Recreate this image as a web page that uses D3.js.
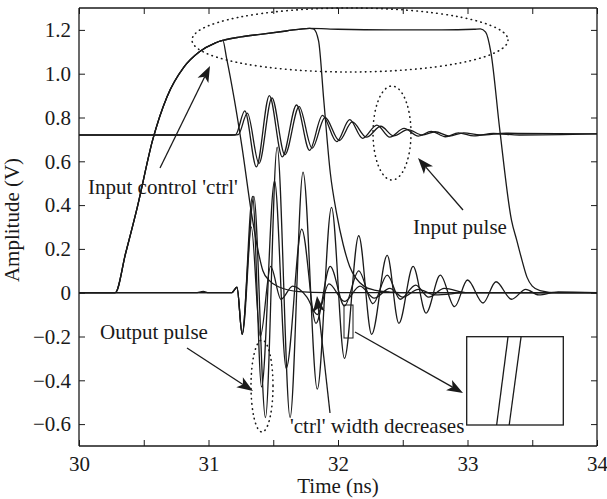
<!DOCTYPE html>
<html><head><meta charset="utf-8">
<script src="https://cdn.jsdelivr.net/npm/d3@7/dist/d3.min.js"></script>
<style>body{margin:0;background:#fff}svg text{font-family:"Liberation Serif","Times New Roman",serif;fill:#1a1a1a}</style>
</head><body><svg id="c" width="607" height="499"></svg>
<script>
// ---- data (time in ns, amplitude in V) ----
const xTicks = [30, 31, 32, 33, 34];
const xMinorTicks = [30.5, 31.5, 32.5, 33.5];
const yTicks = [-0.6, -0.4, -0.2, 0, 0.2, 0.4, 0.6, 0.8, 1.0, 1.2];
const yTickLabels = ["\u22120.6", "\u22120.4", "\u22120.2", "0", "0.2", "0.4", "0.6", "0.8", "1.0", "1.2"];

const inputPulseA = [[30,0.72],[31.18,0.72],[31.21,0.722],[31.28,0.83],[31.37,0.575],[31.47,0.90],[31.57,0.62],[31.68,0.857],[31.78,0.65],[31.88,0.81],[31.99,0.69],[32.09,0.79],[32.19,0.705],[32.30,0.765],[32.40,0.71],[32.51,0.75],[32.62,0.715],[32.72,0.737],[32.83,0.712],[32.93,0.73],[33.05,0.716],[33.2,0.727],[33.4,0.72],[34,0.725]];
const inputPulseB = [[30,0.72],[31.2,0.72],[31.23,0.722],[31.30,0.82],[31.39,0.59],[31.49,0.89],[31.59,0.63],[31.70,0.85],[31.80,0.66],[31.90,0.80],[32.01,0.695],[32.11,0.78],[32.22,0.71],[32.33,0.76],[32.43,0.716],[32.54,0.745],[32.65,0.72],[32.75,0.735],[32.86,0.715],[32.97,0.73],[33.1,0.72],[33.3,0.728],[34,0.725]];

const ctrlShort = [[30,0],[30.28,0],[30.36,0.18],[30.45,0.39],[30.57,0.70],[30.68,0.895],[30.81,1.03],[30.93,1.10],[31.05,1.14],[31.11,1.152],[31.14,1.07],[31.2,0.88],[31.26,0.66],[31.33,0.37],[31.38,0.2],[31.42,0.1],[31.47,0.055],[31.55,0.025],[31.7,0.005],[31.9,0],[34,0]];
const ctrlMedium = [[30,0],[30.28,0],[30.36,0.18],[30.45,0.39],[30.57,0.70],[30.68,0.895],[30.81,1.03],[30.93,1.10],[31.05,1.14],[31.11,1.152],[31.25,1.168],[31.4,1.18],[31.6,1.195],[31.78,1.207],[31.81,1.205],[31.85,1.15],[31.89,0.88],[31.94,0.55],[31.99,0.36],[32.04,0.22],[32.09,0.12],[32.14,0.065],[32.2,0.03],[32.28,0.012],[32.4,0.003],[32.55,0],[34,0]];
const ctrlLong = [[30,0],[30.28,0],[30.36,0.18],[30.45,0.39],[30.57,0.70],[30.68,0.895],[30.81,1.03],[30.93,1.10],[31.05,1.14],[31.11,1.152],[31.25,1.168],[31.4,1.18],[31.6,1.195],[31.78,1.207],[32.0,1.203],[32.4,1.2],[32.8,1.2],[33.05,1.203],[33.1,1.205],[33.14,1.19],[33.18,1.1],[33.25,0.74],[33.34,0.33],[33.38,0.24],[33.42,0.15],[33.46,0.07],[33.5,0.03],[33.56,0.01],[33.7,0],[34,0]];

const outputLong = [[30,0],[30.9,0],[30.96,0.006],[31.0,0],[31.18,0],[31.22,0.025],[31.26,-0.19],[31.35,0.44],[31.44,-0.57],[31.53,0.665],[31.63,-0.57],[31.73,0.55],[31.84,-0.44],[31.95,0.39],[32.05,-0.30],[32.16,0.26],[32.26,-0.19],[32.38,0.17],[32.47,-0.14],[32.58,0.12],[32.68,-0.093],[32.79,0.08],[32.9,-0.064],[33.0,0.058],[33.12,-0.047],[33.22,0.05],[33.34,-0.03],[33.45,0.015],[33.55,-0.01],[33.7,0.004],[34,0]];
const outputMedium = [[30,0],[31.18,0],[31.22,0.025],[31.26,-0.19],[31.34,0.44],[31.41,-0.43],[31.51,0.51],[31.60,-0.345],[31.72,0.29],[31.83,-0.14],[31.94,0.12],[32.05,-0.06],[32.16,0.10],[32.27,-0.05],[32.38,0.08],[32.48,-0.03],[32.6,0.035],[32.7,-0.02],[32.82,0.02],[33.0,0],[34,0]];
const outputShort = [[30,0],[31.18,0],[31.22,0.025],[31.26,-0.19],[31.33,0.3],[31.4,-0.2],[31.48,0.12],[31.56,-0.03],[31.65,0.03],[31.76,-0.02],[31.84,-0.1],[31.93,0.04],[32.05,-0.04],[32.17,0.03],[32.28,-0.025],[32.4,0.02],[32.5,-0.02],[32.62,0.015],[32.75,-0.01],[33,0],[34,0]];

// inset (zoomed view of two falling edges, normalised units)
const insetEdge1 = [[0.428,1],[0.31,0]];
const insetEdge2 = [[0.563,1],[0.44,0]];

// ---- layout ----
const svg = d3.select("#c");
const L = 79, R = 597, T = 8, B = 446;
const x = d3.scaleLinear().domain([30, 34]).range([L, R]);
const y = d3.scaleLinear().domain([-0.7, 1.3]).range([B, T]);
const ink = "#1a1a1a";

const line = d3.line().x(d => x(d[0])).y(d => y(d[1])).curve(d3.curveMonotoneX);
const g = svg.append("g");
g.append("defs").append("clipPath").attr("id","clip").append("rect")
  .attr("x", L).attr("y", T).attr("width", R - L).attr("height", B - T);
const plot = g.append("g").attr("clip-path", "url(#clip)");
[inputPulseA, inputPulseB, ctrlShort, ctrlMedium, ctrlLong, outputShort, outputMedium, outputLong].forEach(s => {
  plot.append("path").attr("d", line(s)).attr("fill", "none").attr("stroke", ink).attr("stroke-width", 1.3);
});

// axes (inward ticks, box)
const tk = 6;
const axB = d3.axisBottom(x).tickValues(xTicks.concat(xMinorTicks)).tickSize(-tk).tickFormat(d => xTicks.includes(d) ? d3.format("d")(d) : "").tickPadding(10);
const axT = d3.axisTop(x).tickValues(xTicks.concat(xMinorTicks)).tickSize(-tk).tickFormat("");
const axL = d3.axisLeft(y).tickValues(yTicks).tickSize(-tk).tickFormat((d, i) => yTickLabels[i]).tickPadding(8);
const axR = d3.axisRight(y).tickValues(yTicks).tickSize(-tk).tickFormat("");
function style(sel){ sel.selectAll("path").attr("stroke", ink).attr("stroke-width", 1.3);
  sel.selectAll("line").attr("stroke", ink).attr("stroke-width", 1);
  sel.selectAll("text").attr("font-size", 21).attr("font-family", "Liberation Serif").attr("fill", ink); }
g.append("g").attr("transform", `translate(0,${B})`).call(axB).call(style).call(s=>s.selectAll("path").attr("d", `M${L},0H${R}`));
g.append("g").attr("transform", `translate(0,${T})`).call(axT).call(style).call(s=>s.selectAll("path").attr("d", `M${L},0H${R}`));
g.append("g").attr("transform", `translate(${L},0)`).call(axL).call(style).call(s=>s.selectAll("path").attr("d", `M0,${T}V${B}`));
g.append("g").attr("transform", `translate(${R},0)`).call(axR).call(style).call(s=>s.selectAll("path").attr("d", `M0,${T}V${B}`));

svg.append("text").attr("x", (L + R) / 2).attr("y", 493).attr("text-anchor", "middle").attr("font-size", 21).text("Time (ns)");
svg.append("text").attr("transform", "translate(19,220) rotate(-90)").attr("text-anchor", "middle").attr("font-size", 21).text("Amplitude (V)");

// annotations
const ann = svg.append("g");
function dotted(cx, cy, rx, ry){ ann.append("ellipse").attr("cx", cx).attr("cy", cy).attr("rx", rx).attr("ry", ry)
  .attr("fill", "none").attr("stroke", ink).attr("stroke-width", 1.6).attr("stroke-dasharray", "0.5 4.5").attr("stroke-linecap", "round"); }
dotted(350, 40, 158, 32);
dotted(392, 133, 19, 47);
dotted(262, 386, 11, 46);
function arrow(x1, y1, x2, y2){
  const a = Math.atan2(y2 - y1, x2 - x1), len = 16, w = 6;
  const bx = x2 - len * Math.cos(a), by = y2 - len * Math.sin(a);
  ann.append("line").attr("x1", x1).attr("y1", y1).attr("x2", bx + 4*Math.cos(a)).attr("y2", by + 4*Math.sin(a)).attr("stroke", ink).attr("stroke-width", 1.3);
  const p = [[x2, y2], [bx + w*Math.sin(a), by - w*Math.cos(a)], [x2 - (len-4)*Math.cos(a), y2 - (len-4)*Math.sin(a)], [bx - w*Math.sin(a), by + w*Math.cos(a)]];
  ann.append("path").attr("d", "M" + p.join("L") + "Z").attr("fill", ink);
}
arrow(160, 168, 210, 66);
arrow(463, 210, 418, 158);
arrow(187, 348, 253, 391);
arrow(330, 413, 317, 296);
arrow(355, 332, 463, 393);
function label(t, x0, yb){ ann.append("text").attr("x", x0).attr("y", yb).attr("font-size", 21).text(t); }
label("Input control 'ctrl'", 88, 194);
label("Input pulse", 413, 234);
label("Output pulse", 100, 339);
label("'ctrl' width decreases", 290, 433);

ann.append("rect").attr("x", 344).attr("y", 305).attr("width", 9).attr("height", 33).attr("fill", "none").attr("stroke", ink).attr("stroke-width", 1);
// inset box
const ix = d3.scaleLinear().domain([0, 1]).range([466.7, 563.3]);
const iy = d3.scaleLinear().domain([0, 1]).range([425, 336.7]);
ann.append("rect").attr("x", 466.7).attr("y", 336.7).attr("width", 96.6).attr("height", 88.3).attr("fill", "#fff").attr("stroke", ink).attr("stroke-width", 1.3);
const iline = d3.line().x(d => ix(d[0])).y(d => iy(d[1]));
[insetEdge1, insetEdge2].forEach(s => ann.append("path").attr("d", iline(s)).attr("fill", "none").attr("stroke", ink).attr("stroke-width", 1.3));
</script></body></html>
